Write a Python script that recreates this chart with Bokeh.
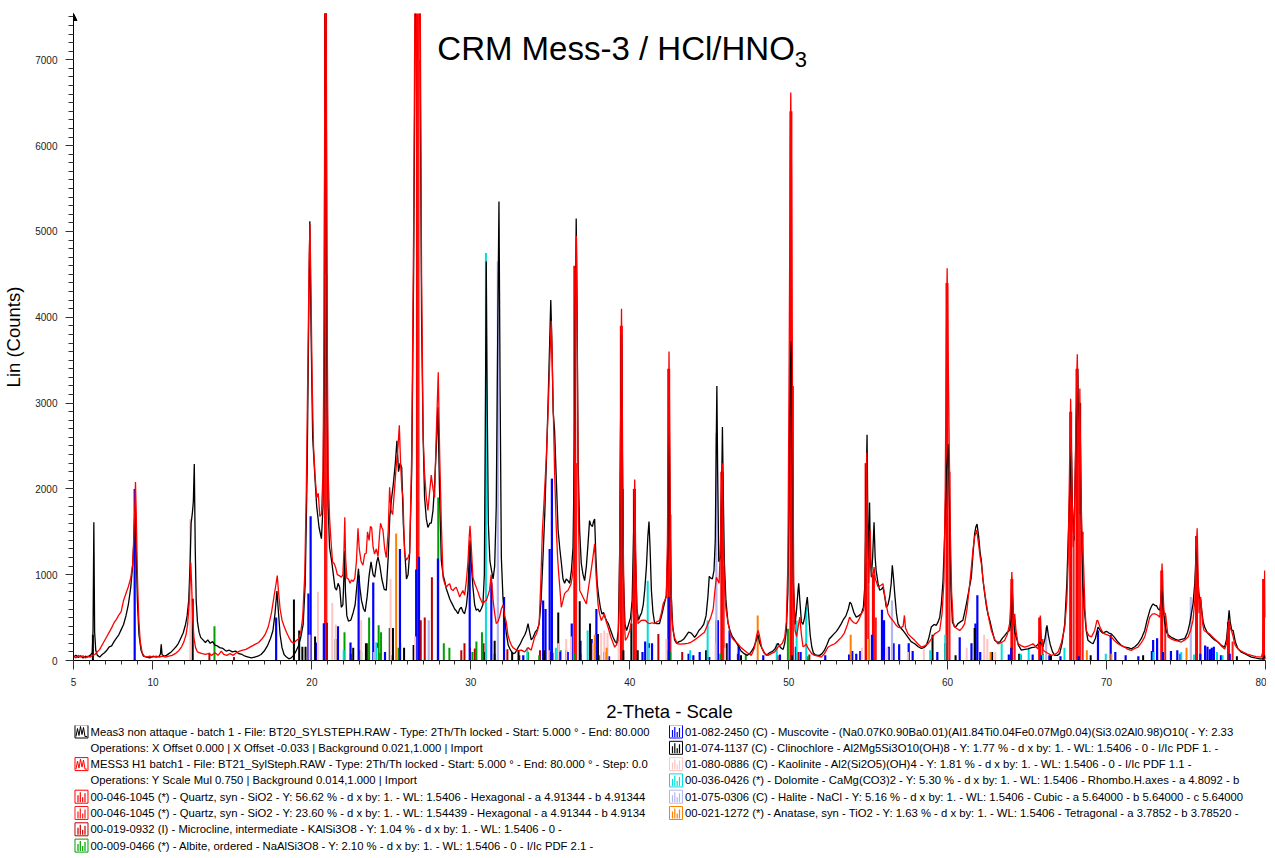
from bokeh.plotting import figure
from bokeh.layouts import column
from bokeh.models import Range1d, FixedTicker, Label, Arrow, NormalHead
from bokeh.embed import file_html
from bokeh.resources import INLINE

FONT = "Liberation Sans"

# ---- measured scans: (2-theta in degrees, counts) ----
meas3_scan = [
    (5.00, 40), (5.15, 60), (5.30, 35), (5.45, 55), (5.60, 30), (5.75, 50), (5.90, 40), (6.05, 60),
    (6.18, 90), (6.23, 350), (6.28, 1610), (6.33, 330), (6.40, 120), (6.50, 60), (6.65, 40), (6.80, 70),
    (6.95, 90), (7.10, 120), (7.25, 160), (7.40, 170), (7.55, 220), (7.70, 260), (7.85, 300), (8.00, 360),
    (8.15, 420), (8.30, 520), (8.45, 650), (8.60, 850), (8.72, 1100), (8.80, 1400), (8.87, 1800), (8.94, 1300),
    (9.02, 700), (9.12, 300), (9.25, 120), (9.40, 50), (9.60, 40), (9.80, 30), (10.00, 50), (10.20, 40),
    (10.40, 50), (10.47, 80), (10.52, 190), (10.57, 70), (10.70, 50), (10.85, 60), (11.00, 80), (11.15, 100),
    (11.30, 130), (11.45, 160), (11.60, 200), (11.75, 260), (11.90, 320), (12.05, 420), (12.15, 520), (12.25, 700),
    (12.33, 1100), (12.40, 1600), (12.48, 1720), (12.54, 1850), (12.60, 2290), (12.66, 1300), (12.72, 700), (12.80, 450),
    (12.90, 330), (13.00, 270), (13.15, 240), (13.30, 210), (13.45, 240), (13.60, 200), (13.75, 220), (13.90, 180),
    (14.05, 170), (14.20, 150), (14.40, 140), (14.60, 110), (14.80, 120), (15.00, 100), (15.20, 110), (15.40, 80),
    (15.60, 70), (15.80, 50), (16.00, 40), (16.20, 30), (16.40, 40), (16.60, 50), (16.80, 70), (17.00, 110),
    (17.20, 170), (17.40, 260), (17.55, 350), (17.68, 550), (17.80, 810), (17.90, 550), (18.00, 300), (18.12, 150),
    (18.25, 70), (18.40, 40), (18.55, 20), (18.70, 30), (18.85, 60), (19.00, 110), (19.15, 170), (19.30, 270),
    (19.45, 420), (19.58, 900), (19.70, 2200), (19.80, 4000), (19.87, 5120), (19.95, 3800), (20.05, 2600), (20.17, 2200),
    (20.30, 1800), (20.45, 1550), (20.60, 1420), (20.70, 1800), (20.77, 3500), (20.82, 7000), (20.86, 9500), (20.90, 7000),
    (20.95, 3500), (21.02, 1800), (21.11, 1320), (21.25, 1150), (21.35, 1000), (21.45, 850), (21.55, 820), (21.65, 900),
    (21.75, 850), (21.85, 620), (21.95, 650), (22.02, 1000), (22.06, 1280), (22.11, 800), (22.20, 520), (22.30, 460),
    (22.45, 470), (22.60, 560), (22.72, 650), (22.82, 850), (22.93, 1070), (23.02, 850), (23.12, 700), (23.25, 600),
    (23.35, 570), (23.48, 750), (23.60, 990), (23.72, 1150), (23.85, 1000), (23.95, 970), (24.08, 1150), (24.16, 1205),
    (24.28, 1100), (24.40, 950), (24.55, 830), (24.68, 820), (24.80, 1200), (24.90, 1670), (25.02, 1900), (25.12, 2050),
    (25.25, 2300), (25.35, 2560), (25.45, 2200), (25.55, 2300), (25.65, 2250), (25.75, 1600), (25.85, 1250), (25.95, 950),
    (26.05, 1000), (26.15, 1250), (26.28, 2200), (26.40, 4500), (26.52, 8000), (26.65, 12000), (26.78, 8000), (26.90, 4000),
    (27.00, 2600), (27.09, 1900), (27.20, 1650), (27.30, 1550), (27.42, 1600), (27.51, 1600), (27.62, 1750), (27.72, 2050),
    (27.83, 2500), (27.93, 2950), (28.03, 2000), (28.14, 1170), (28.25, 1000), (28.35, 930), (28.45, 840), (28.56, 780),
    (28.67, 720), (28.77, 680), (28.88, 640), (28.98, 600), (29.08, 580), (29.19, 545), (29.30, 600), (29.40, 620),
    (29.50, 570), (29.61, 545), (29.72, 640), (29.82, 820), (29.90, 1200), (29.95, 1400), (30.02, 1150), (30.13, 860),
    (30.24, 650), (30.34, 585), (30.45, 600), (30.55, 565), (30.65, 600), (30.76, 650), (30.85, 1000), (30.92, 3000),
    (30.97, 4650), (31.03, 3000), (31.10, 1600), (31.20, 1160), (31.30, 1050), (31.40, 950), (31.50, 1100), (31.60, 1800),
    (31.70, 4000), (31.77, 5350), (31.84, 3200), (31.92, 1200), (32.02, 740), (32.12, 500), (32.23, 320), (32.35, 180),
    (32.50, 120), (32.65, 80), (32.80, 90), (32.97, 150), (33.10, 190), (33.25, 250), (33.40, 300), (33.50, 350),
    (33.60, 430), (33.70, 330), (33.80, 240), (33.92, 270), (34.05, 330), (34.18, 360), (34.30, 430), (34.42, 700),
    (34.54, 1200), (34.65, 1700), (34.75, 2300), (34.86, 3000), (34.96, 3700), (35.03, 4200), (35.10, 3700), (35.18, 2900),
    (35.27, 2680), (35.38, 2100), (35.49, 1520), (35.60, 1300), (35.70, 1130), (35.80, 950), (35.90, 900), (36.00, 950),
    (36.11, 930), (36.22, 900), (36.33, 1050), (36.43, 1320), (36.52, 2500), (36.58, 4000), (36.63, 5150), (36.68, 4200),
    (36.75, 2300), (36.85, 1500), (36.95, 1130), (37.06, 1000), (37.16, 930), (37.27, 1100), (37.37, 1350), (37.47, 1630),
    (37.55, 1580), (37.65, 1560), (37.72, 1620), (37.79, 1650), (37.87, 1200), (37.95, 900), (38.05, 740), (38.15, 620),
    (38.25, 540), (38.35, 560), (38.45, 500), (38.55, 460), (38.65, 430), (38.80, 350), (38.95, 270), (39.08, 220),
    (39.18, 200), (39.28, 350), (39.36, 1200), (39.43, 3000), (39.48, 3800), (39.53, 2500), (39.60, 1000), (39.70, 420),
    (39.80, 350), (39.92, 420), (40.05, 500), (40.15, 700), (40.22, 1300), (40.30, 2000), (40.36, 1200), (40.45, 600),
    (40.55, 470), (40.65, 520), (40.75, 560), (40.85, 650), (40.94, 820), (41.05, 1100), (41.14, 1450), (41.21, 1620),
    (41.28, 1300), (41.36, 820), (41.46, 560), (41.56, 440), (41.70, 430), (41.87, 430), (42.00, 520), (42.10, 600),
    (42.20, 680), (42.30, 760), (42.38, 1200), (42.44, 2500), (42.48, 2900), (42.53, 1800), (42.60, 800), (42.70, 400),
    (42.82, 240), (42.95, 200), (43.10, 220), (43.25, 230), (43.40, 250), (43.55, 290), (43.70, 330), (43.87, 320),
    (44.00, 290), (44.08, 270), (44.20, 300), (44.35, 350), (44.50, 380), (44.65, 420), (44.80, 520), (44.92, 750),
    (45.00, 980), (45.10, 960), (45.20, 950), (45.30, 1050), (45.38, 1400), (45.44, 2500), (45.48, 3200), (45.53, 2200),
    (45.60, 1150), (45.70, 1200), (45.78, 2000), (45.83, 2720), (45.88, 2000), (45.95, 1150), (46.05, 700), (46.18, 440),
    (46.30, 350), (46.45, 280), (46.60, 240), (46.80, 180), (47.00, 110), (47.20, 80), (47.40, 60), (47.60, 90),
    (47.80, 150), (47.95, 230), (48.07, 300), (48.18, 200), (48.30, 150), (48.45, 90), (48.60, 60), (48.80, 90),
    (49.00, 110), (49.12, 130), (49.25, 180), (49.33, 200), (49.45, 160), (49.55, 140), (49.65, 130), (49.75, 200),
    (49.85, 350), (49.95, 800), (50.03, 2000), (50.10, 3400), (50.17, 3720), (50.22, 2600), (50.30, 900), (50.40, 420),
    (50.50, 600), (50.58, 800), (50.63, 900), (50.70, 700), (50.80, 450), (50.90, 420), (51.00, 500), (51.10, 650),
    (51.17, 740), (51.25, 550), (51.35, 300), (51.45, 160), (51.55, 90), (51.65, 70), (51.80, 60), (51.95, 60),
    (52.10, 80), (52.25, 120), (52.40, 180), (52.55, 250), (52.70, 280), (52.85, 310), (53.00, 340), (53.15, 380),
    (53.31, 430), (53.45, 480), (53.60, 520), (53.75, 600), (53.85, 680), (53.94, 660), (54.10, 560), (54.25, 505),
    (54.40, 520), (54.57, 545), (54.70, 620), (54.80, 900), (54.87, 2000), (54.93, 2630), (54.98, 1600), (55.03, 1130),
    (55.09, 1840), (55.14, 1200), (55.20, 970), (55.28, 1200), (55.37, 1610), (55.44, 1200), (55.50, 1050), (55.62, 900),
    (55.72, 820), (55.83, 830), (55.93, 855), (56.04, 750), (56.14, 620), (56.25, 650), (56.35, 740), (56.45, 900),
    (56.52, 1110), (56.60, 950), (56.67, 780), (56.78, 550), (56.88, 430), (57.00, 390), (57.10, 370), (57.19, 350),
    (57.35, 310), (57.51, 270), (57.70, 220), (57.93, 195), (58.15, 160), (58.35, 140), (58.50, 150), (58.66, 175),
    (58.80, 250), (58.97, 390), (59.15, 420), (59.29, 410), (59.40, 450), (59.50, 500), (59.60, 650), (59.71, 930),
    (59.82, 1500), (59.92, 2200), (60.00, 2400), (60.05, 2520), (60.12, 1800), (60.20, 900), (60.30, 450), (60.44, 390),
    (60.55, 400), (60.65, 430), (60.80, 450), (60.96, 470), (61.07, 560), (61.18, 660), (61.30, 780), (61.40, 880),
    (61.49, 970), (61.60, 1250), (61.70, 1480), (61.78, 1560), (61.85, 1590), (61.95, 1450), (62.05, 1250), (62.12, 1170),
    (62.22, 950), (62.33, 780), (62.45, 620), (62.55, 530), (62.65, 470), (62.80, 350), (62.96, 235), (63.10, 215),
    (63.28, 215), (63.45, 260), (63.59, 290), (63.75, 330), (63.90, 350), (64.00, 500), (64.07, 800), (64.14, 500),
    (64.22, 330), (64.32, 270), (64.45, 180), (64.64, 120), (64.85, 130), (65.06, 135), (65.28, 150), (65.48, 155),
    (65.65, 180), (65.83, 215), (66.00, 160), (66.12, 250), (66.25, 410), (66.35, 280), (66.45, 190), (66.60, 100),
    (66.74, 60), (66.90, 60), (67.05, 80), (67.20, 200), (67.37, 430), (67.50, 900), (67.60, 1500), (67.72, 2200),
    (67.78, 2600), (67.85, 1800), (67.95, 1400), (68.05, 2400), (68.12, 3000), (68.18, 3400), (68.25, 2600), (68.33, 3000),
    (68.40, 1800), (68.50, 900), (68.60, 600), (68.72, 350), (68.83, 235), (69.00, 210), (69.15, 195), (69.30, 260),
    (69.46, 390), (69.60, 350), (69.75, 320), (69.88, 330), (70.00, 340), (70.15, 320), (70.30, 310), (70.50, 270),
    (70.72, 215), (70.90, 180), (71.14, 155), (71.35, 150), (71.56, 135), (71.78, 160), (71.98, 195), (72.20, 260),
    (72.40, 350), (72.55, 470), (72.72, 585), (72.85, 640), (72.93, 660), (73.05, 640), (73.14, 640), (73.25, 600),
    (73.35, 585), (73.42, 700), (73.49, 900), (73.55, 650), (73.65, 450), (73.77, 330), (73.92, 290), (74.08, 270),
    (74.30, 250), (74.50, 235), (74.70, 245), (74.92, 255), (75.10, 330), (75.23, 430), (75.35, 560), (75.44, 660),
    (75.55, 900), (75.62, 1200), (75.68, 1400), (75.73, 1000), (75.80, 800), (75.87, 700), (75.92, 700), (76.00, 560),
    (76.08, 450), (76.17, 390), (76.35, 320), (76.59, 275), (76.80, 240), (77.01, 215), (77.20, 180), (77.43, 155),
    (77.55, 250), (77.65, 450), (77.71, 585), (77.78, 450), (77.88, 350), (77.96, 350), (78.10, 220), (78.27, 135),
    (78.45, 100), (78.69, 80), (78.90, 60), (79.11, 40), (79.35, 30), (79.64, 20), (79.85, 20), (79.95, 60),
    (80.00, 20),
]

mess3_scan = [
    (5.00, 50), (5.15, 30), (5.30, 60), (5.45, 40), (5.60, 55), (5.75, 30), (5.90, 50), (6.05, 40),
    (6.20, 60), (6.35, 70), (6.50, 100), (6.65, 130), (6.80, 180), (6.95, 230), (7.10, 280), (7.25, 330),
    (7.40, 380), (7.55, 440), (7.70, 480), (7.85, 530), (8.00, 570), (8.15, 700), (8.30, 780), (8.45, 860),
    (8.60, 960), (8.72, 1120), (8.80, 1450), (8.86, 1800), (8.90, 2080), (8.95, 1700), (9.02, 1000), (9.10, 500),
    (9.20, 220), (9.32, 90), (9.45, 50), (9.60, 40), (9.80, 50), (10.00, 40), (10.20, 50), (10.40, 40),
    (10.60, 50), (10.80, 40), (11.00, 50), (11.20, 60), (11.40, 80), (11.60, 110), (11.80, 160), (11.95, 220),
    (12.08, 300), (12.18, 420), (12.27, 650), (12.33, 900), (12.38, 1140), (12.43, 900), (12.50, 500), (12.58, 260),
    (12.68, 150), (12.80, 100), (12.95, 90), (13.10, 80), (13.30, 70), (13.50, 80), (13.70, 60), (13.90, 90),
    (14.10, 60), (14.30, 110), (14.45, 70), (14.65, 60), (14.85, 80), (15.05, 60), (15.25, 90), (15.45, 110),
    (15.65, 120), (15.85, 130), (16.05, 150), (16.25, 170), (16.45, 190), (16.65, 210), (16.85, 250), (17.05, 300),
    (17.25, 390), (17.45, 550), (17.62, 750), (17.75, 900), (17.82, 990), (17.90, 800), (18.00, 600), (18.12, 470),
    (18.25, 400), (18.40, 330), (18.55, 270), (18.70, 220), (18.85, 200), (19.00, 230), (19.15, 250), (19.30, 330),
    (19.42, 500), (19.55, 1000), (19.65, 2000), (19.75, 3500), (19.83, 4700), (19.88, 5080), (19.95, 4200), (20.02, 3200),
    (20.10, 2500), (20.20, 2150), (20.30, 1900), (20.40, 1950), (20.50, 1680), (20.60, 1700), (20.70, 2200), (20.77, 4000),
    (20.82, 7500), (20.86, 10000), (20.90, 7500), (20.95, 4200), (21.02, 2200), (21.11, 1670), (21.20, 1400), (21.30, 1150),
    (21.40, 1130), (21.50, 1080), (21.60, 1000), (21.72, 990), (21.85, 970), (21.95, 1000), (22.02, 1300), (22.07, 1670),
    (22.12, 1200), (22.20, 960), (22.30, 950), (22.40, 900), (22.50, 940), (22.60, 920), (22.70, 960), (22.80, 1150),
    (22.90, 1540), (22.98, 1300), (23.10, 1150), (23.21, 1110), (23.32, 1240), (23.42, 1250), (23.50, 1500), (23.60, 1400),
    (23.68, 1560), (23.76, 1550), (23.85, 1320), (23.94, 1240), (24.05, 1300), (24.16, 1210), (24.26, 1480), (24.32, 1600),
    (24.40, 1550), (24.47, 1520), (24.58, 1300), (24.68, 1200), (24.80, 1500), (24.89, 2020), (24.98, 1750), (25.08, 1700),
    (25.20, 2000), (25.32, 2300), (25.42, 2500), (25.50, 2740), (25.58, 2300), (25.66, 2000), (25.73, 1900), (25.83, 1250),
    (25.94, 1170), (26.05, 1200), (26.15, 1250), (26.28, 2400), (26.40, 5000), (26.52, 9000), (26.65, 14000), (26.78, 9000),
    (26.90, 4500), (27.00, 2600), (27.09, 2180), (27.20, 1900), (27.30, 1750), (27.40, 1950), (27.51, 2160), (27.62, 2000),
    (27.72, 1900), (27.82, 2600), (27.95, 3360), (28.04, 2400), (28.14, 1630), (28.25, 970), (28.35, 900), (28.45, 855),
    (28.56, 880), (28.67, 895), (28.77, 830), (28.88, 816), (28.98, 840), (29.08, 855), (29.19, 800), (29.30, 740),
    (29.40, 780), (29.50, 816), (29.61, 760), (29.72, 930), (29.82, 1150), (29.90, 1450), (29.95, 1570), (30.02, 1350),
    (30.13, 970), (30.24, 900), (30.34, 855), (30.45, 800), (30.55, 740), (30.65, 700), (30.76, 660), (30.87, 690),
    (30.97, 700), (31.08, 760), (31.18, 820), (31.28, 1000), (31.40, 700), (31.50, 550), (31.60, 430), (31.70, 450),
    (31.80, 500), (31.92, 600), (32.03, 650), (32.13, 520), (32.23, 450), (32.33, 300), (32.44, 230), (32.55, 180),
    (32.65, 150), (32.80, 130), (32.97, 115), (33.18, 120), (33.39, 100), (33.60, 150), (33.80, 120), (34.01, 270),
    (34.10, 300), (34.20, 350), (34.30, 430), (34.40, 900), (34.50, 1500), (34.62, 1900), (34.75, 2370), (34.86, 2900),
    (34.96, 3460), (35.06, 3960), (35.12, 3500), (35.17, 3070), (35.27, 2200), (35.38, 1520), (35.46, 1200), (35.53, 1010),
    (35.62, 800), (35.69, 620), (35.80, 700), (35.90, 780), (36.00, 800), (36.11, 816), (36.20, 850), (36.30, 890),
    (36.40, 1000), (36.48, 1200), (36.54, 2500), (36.59, 4000), (36.64, 4950), (36.69, 3800), (36.76, 1800), (36.85, 816),
    (36.95, 780), (37.05, 740), (37.16, 700), (37.27, 660), (37.37, 800), (37.47, 930), (37.57, 1050), (37.68, 1200),
    (37.79, 1360), (37.88, 1000), (38.00, 660), (38.10, 540), (38.21, 466), (38.30, 500), (38.40, 544), (38.52, 450),
    (38.63, 390), (38.80, 280), (39.05, 155), (39.15, 180), (39.26, 230), (39.33, 600), (39.40, 2000), (39.45, 3500),
    (39.48, 4100), (39.52, 3300), (39.58, 1500), (39.65, 500), (39.72, 235), (39.85, 270), (40.00, 350), (40.10, 450),
    (40.20, 740), (40.26, 1300), (40.31, 2110), (40.37, 1300), (40.45, 600), (40.52, 430), (40.62, 450), (40.73, 466),
    (40.85, 470), (41.00, 466), (41.12, 440), (41.25, 430), (41.40, 440), (41.56, 430), (41.70, 450), (41.87, 466),
    (42.00, 560), (42.10, 660), (42.20, 700), (42.30, 740), (42.37, 1400), (42.43, 2800), (42.47, 3600), (42.52, 2500),
    (42.58, 1000), (42.65, 500), (42.72, 350), (42.85, 250), (43.00, 195), (43.20, 190), (43.45, 195), (43.65, 200),
    (43.87, 215), (44.08, 240), (44.30, 270), (44.50, 300), (44.70, 330), (44.90, 420), (45.10, 505), (45.25, 600),
    (45.35, 800), (45.45, 970), (45.55, 930), (45.62, 900), (45.70, 1300), (45.77, 2000), (45.82, 2300), (45.88, 1500),
    (45.95, 900), (46.05, 600), (46.15, 480), (46.30, 330), (46.45, 260), (46.60, 230), (46.80, 195), (47.00, 150),
    (47.20, 120), (47.40, 90), (47.65, 60), (47.85, 150), (47.97, 280), (48.07, 350), (48.15, 300), (48.30, 150),
    (48.50, 80), (48.70, 60), (48.90, 80), (49.12, 100), (49.30, 150), (49.45, 175), (49.60, 200), (49.75, 270),
    (49.85, 450), (49.95, 1130), (50.03, 3500), (50.09, 5800), (50.13, 6620), (50.18, 5600), (50.24, 3000), (50.32, 800),
    (50.40, 350), (50.50, 280), (50.60, 400), (50.70, 505), (50.80, 300), (50.90, 160), (51.00, 170), (51.10, 195),
    (51.20, 150), (51.30, 120), (51.45, 80), (51.63, 60), (51.85, 50), (52.05, 40), (52.25, 80), (52.47, 155),
    (52.70, 180), (52.90, 195), (53.10, 230), (53.31, 270), (53.50, 320), (53.70, 420), (53.83, 505), (53.94, 470),
    (54.10, 440), (54.25, 430), (54.40, 470), (54.57, 545), (54.70, 580), (54.78, 660), (54.85, 1500), (54.91, 2420),
    (54.96, 1500), (55.03, 900), (55.09, 1200), (55.13, 1520), (55.18, 1100), (55.25, 970), (55.31, 1000), (55.37, 1090),
    (55.45, 950), (55.55, 900), (55.62, 860), (55.72, 870), (55.83, 880), (55.93, 895), (56.04, 760), (56.14, 650),
    (56.25, 545), (56.40, 500), (56.56, 466), (56.72, 420), (56.88, 390), (57.05, 380), (57.20, 400), (57.28, 525),
    (57.35, 380), (57.51, 310), (57.72, 270), (57.93, 235), (58.15, 190), (58.35, 155), (58.55, 170), (58.76, 195),
    (58.97, 250), (59.18, 310), (59.35, 330), (59.50, 350), (59.65, 550), (59.77, 930), (59.85, 2000), (59.92, 3800),
    (59.97, 4570), (60.03, 3600), (60.10, 2500), (60.17, 1500), (60.25, 800), (60.35, 450), (60.44, 390), (60.60, 370),
    (60.76, 350), (60.92, 380), (61.07, 430), (61.22, 600), (61.39, 895), (61.50, 1100), (61.60, 1300), (61.70, 1440),
    (61.83, 1520), (61.95, 1350), (62.05, 1200), (62.12, 1130), (62.25, 900), (62.44, 660), (62.60, 480), (62.75, 350),
    (62.95, 250), (63.17, 195), (63.40, 210), (63.59, 235), (63.75, 300), (63.90, 430), (63.98, 700), (64.04, 1030),
    (64.10, 700), (64.16, 400), (64.22, 545), (64.30, 350), (64.43, 195), (64.65, 170), (64.85, 155), (65.10, 170),
    (65.37, 195), (65.55, 160), (65.69, 135), (65.77, 300), (65.83, 525), (65.90, 250), (66.00, 120), (66.25, 90),
    (66.53, 60), (66.75, 70), (66.95, 100), (67.15, 200), (67.37, 390), (67.50, 700), (67.58, 1130), (67.65, 2000),
    (67.74, 3050), (67.82, 2000), (67.90, 1320), (67.97, 1500), (68.05, 2500), (68.12, 3300), (68.16, 3570), (68.21, 2800),
    (68.27, 2300), (68.32, 3170), (68.37, 2200), (68.44, 1520), (68.50, 1300), (68.56, 1090), (68.64, 600), (68.73, 350),
    (68.88, 290), (69.05, 275), (69.25, 350), (69.40, 470), (69.46, 460), (69.60, 380), (69.75, 330), (69.88, 310),
    (70.05, 300), (70.30, 275), (70.50, 230), (70.72, 195), (70.95, 170), (71.14, 155), (71.35, 130), (71.56, 117),
    (71.78, 140), (71.98, 155), (72.20, 210), (72.40, 275), (72.55, 380), (72.72, 505), (72.88, 540), (73.03, 545),
    (73.20, 530), (73.35, 505), (73.44, 800), (73.49, 1130), (73.55, 800), (73.62, 545), (73.70, 550), (73.87, 275),
    (74.08, 250), (74.29, 235), (74.50, 225), (74.71, 215), (74.92, 240), (75.13, 275), (75.30, 360), (75.44, 470),
    (75.55, 700), (75.64, 1300), (75.70, 1540), (75.76, 1000), (75.82, 550), (75.87, 700), (75.92, 740), (75.98, 600),
    (76.05, 420), (76.13, 350), (76.30, 330), (76.49, 310), (76.75, 260), (77.01, 215), (77.22, 170), (77.43, 135),
    (77.56, 200), (77.64, 380), (77.71, 470), (77.78, 370), (77.86, 350), (77.96, 280), (78.05, 200), (78.17, 155),
    (78.38, 120), (78.59, 97), (78.85, 75), (79.11, 60), (79.40, 45), (79.74, 40), (79.83, 100), (79.90, 600),
    (79.95, 1050), (79.99, 500),
]

# ---- reference patterns: (2-theta, stick height in counts) ----
quartz_ka1 = [
    (20.86, 9000), (26.64, 14000), (36.54, 4600), (39.47, 3900), (40.29, 2000), (42.45, 3400),
    (45.79, 2200), (50.14, 6400), (54.87, 2300), (55.33, 1000), (59.96, 4400), (64.04, 950),
    (65.79, 500), (67.74, 2900), (68.14, 3400), (68.31, 3000), (73.47, 1050), (75.66, 1450),
    (77.67, 450), (79.88, 950),
]
quartz_ka2 = [
    (20.91, 4500), (26.71, 7000), (36.63, 2300), (39.57, 2000), (40.39, 1000), (42.56, 1700),
    (45.91, 1100), (50.27, 3200), (55.02, 1150), (55.48, 500), (60.12, 2200), (64.22, 480),
    (65.97, 250), (67.93, 1450), (68.33, 1700), (68.50, 1500), (73.69, 520), (75.90, 720),
    (77.93, 220),
]
microcline = [
    (13.55, 90), (15.10, 40), (20.95, 440), (21.60, 250), (22.45, 80), (23.05, 120), (23.50, 200),
    (24.30, 90), (25.05, 60), (25.55, 200), (26.85, 470), (27.10, 500), (27.55, 970), (29.40, 120),
    (29.60, 200), (29.95, 150), (30.25, 140), (30.80, 200), (32.30, 130), (33.05, 60), (34.35, 120),
    (35.05, 100), (36.90, 80), (37.50, 90), (41.80, 310), (42.40, 120), (43.30, 100), (46.80, 80),
    (49.30, 60), (50.60, 100), (51.30, 70),
]
albite = [
    (13.87, 400), (22.05, 330), (23.10, 100), (23.60, 500), (24.20, 410), (24.35, 330), (25.45, 150),
    (27.95, 1900), (28.30, 200), (28.65, 150), (30.10, 100), (30.35, 220), (30.70, 330), (31.50, 80),
    (33.60, 100), (34.30, 60), (35.15, 90), (35.65, 120), (36.55, 80), (38.10, 60), (42.55, 100),
    (45.70, 80), (47.30, 70), (49.95, 370), (51.20, 50),
]
muscovite = [
    (8.85, 2000), (17.75, 500), (19.78, 780), (19.92, 1680), (20.30, 210), (20.75, 435), (21.64, 400),
    (22.43, 210), (22.94, 990), (23.86, 910), (24.60, 100), (25.54, 1300), (26.56, 1060), (26.74, 1210),
    (27.93, 1190), (29.93, 1340), (31.29, 910), (32.09, 740), (33.30, 60), (34.55, 700), (34.70, 600),
    (34.96, 1300), (35.10, 2120), (35.60, 100), (36.10, 100), (36.35, 430), (36.90, 230), (37.60, 250),
    (37.90, 600), (38.70, 50), (40.80, 100), (40.97, 220), (41.20, 200), (41.40, 200), (42.47, 740),
    (43.70, 80), (44.00, 60), (44.40, 100), (45.00, 40), (45.55, 470), (46.28, 350), (46.85, 180),
    (48.40, 60), (49.45, 70), (50.45, 160), (50.75, 100), (52.30, 60), (53.80, 70), (54.00, 110),
    (54.25, 80), (54.50, 110), (55.24, 300), (55.87, 590), (56.00, 470), (56.30, 160), (56.60, 200),
    (56.95, 190), (57.55, 200), (57.80, 110), (59.35, 100), (60.76, 270), (61.50, 200), (61.75, 430),
    (61.87, 760), (62.05, 100), (63.85, 70), (64.00, 150), (64.60, 60), (65.35, 70), (65.90, 60),
    (66.40, 60), (67.10, 50), (68.25, 50), (69.46, 350), (70.26, 300), (70.55, 100), (71.20, 60),
    (72.00, 50), (72.85, 110), (72.93, 240), (73.18, 260), (73.55, 100), (74.05, 110), (74.45, 120),
    (74.65, 80), (75.90, 80), (76.20, 175), (76.35, 160), (76.50, 130), (76.62, 150), (76.75, 160),
    (77.20, 60), (77.75, 80),
]
clinochlore = [
    (6.22, 300), (12.50, 720), (18.87, 710), (19.20, 350), (19.40, 160), (19.60, 160), (20.20, 280),
    (21.50, 250), (22.60, 150), (23.40, 200), (24.10, 200), (24.90, 380), (25.10, 380), (25.80, 150),
    (26.40, 180), (30.90, 100), (31.50, 230), (32.60, 100), (33.00, 120), (34.60, 120), (35.50, 560),
    (36.00, 120), (36.85, 690), (37.50, 430), (38.00, 310), (38.40, 100), (39.60, 120), (40.10, 430),
    (40.50, 120), (41.20, 100), (44.80, 120), (45.45, 470), (46.10, 200), (47.00, 60), (50.20, 60),
    (59.05, 300), (59.85, 200), (60.50, 60), (61.70, 380), (62.80, 100), (64.50, 80), (66.00, 70),
    (66.50, 60), (69.00, 60), (72.30, 60), (78.20, 50),
]
kaolinite = [
    (12.35, 1650), (19.85, 300), (20.38, 800), (21.28, 670), (21.50, 420), (23.10, 470), (24.10, 150),
    (24.95, 950), (26.50, 280), (34.90, 120), (35.50, 200), (36.00, 250), (36.30, 280), (37.70, 200),
    (38.20, 320), (38.40, 350), (38.60, 320), (39.30, 300), (41.20, 150), (42.30, 250), (45.40, 200),
    (46.00, 150), (54.60, 150), (55.00, 250), (56.20, 150), (57.50, 100), (58.50, 130), (61.20, 150),
    (62.30, 300), (62.50, 250), (63.00, 100),
]
dolomite = [
    (22.00, 120), (24.05, 213), (30.95, 4750), (33.55, 150), (35.35, 150), (37.35, 350), (41.13, 930),
    (43.80, 120), (44.90, 466), (49.25, 200), (50.50, 466), (51.10, 622), (58.90, 120), (59.85, 300),
    (63.40, 200), (64.60, 80), (65.10, 150), (66.00, 70), (67.35, 150), (69.95, 80), (72.95, 100),
    (74.70, 100), (75.50, 70), (76.95, 100), (77.30, 60),
]
halite = [
    (23.90, 100), (27.35, 470), (31.70, 4650), (45.45, 2650), (56.50, 700), (66.20, 390), (75.30, 740),
]
anatase = [
    (25.30, 1480), (37.80, 300), (38.55, 150), (48.05, 525), (53.90, 300), (55.06, 250), (62.70, 100),
    (68.76, 120), (70.30, 80), (75.03, 150),
]

x_major_ticks = [5, 10, 20, 30, 40, 50, 60, 70, 80]
y_major_ticks = [0, 1000, 2000, 3000, 4000, 5000, 6000, 7000]
Y_TOP = 7540

scan_legend = [
    ("Meas3 non attaque - batch 1 - File: BT20_SYLSTEPH.RAW - Type: 2Th/Th locked - Start: 5.000 \u00b0 - End: 80.000",
     "Operations: X Offset 0.000 | X Offset -0.033 | Background 0.021,1.000 | Import"),
    ("MESS3 H1 batch1 - File: BT21_SylSteph.RAW - Type: 2Th/Th locked - Start: 5.000 \u00b0 - End: 80.000 \u00b0 - Step: 0.0",
     "Operations: Y Scale Mul  0.750 | Background 0.014,1.000 | Import"),
]
pattern_legend_left = [
    "00-046-1045 (*) - Quartz, syn - SiO2 - Y: 56.62 % - d x by: 1. - WL: 1.5406 - Hexagonal - a 4.91344 - b 4.91344",
    "00-046-1045 (*) - Quartz, syn - SiO2 - Y: 23.60 % - d x by: 1. - WL: 1.54439 - Hexagonal - a 4.91344 - b 4.9134",
    "00-019-0932 (I) - Microcline, intermediate - KAlSi3O8 - Y: 1.04 % - d x by: 1. - WL: 1.5406 - 0 -",
    "00-009-0466 (*) - Albite, ordered - NaAlSi3O8 - Y: 2.10 % - d x by: 1. - WL: 1.5406 - 0 - I/Ic PDF 2.1 -",
]
pattern_legend_right = [
    "01-082-2450 (C) - Muscovite - (Na0.07K0.90Ba0.01)(Al1.84Ti0.04Fe0.07Mg0.04)(Si3.02Al0.98)O10( - Y: 2.33",
    "01-074-1137 (C) - Clinochlore - Al2Mg5Si3O10(OH)8 - Y: 1.77 % - d x by: 1. - WL: 1.5406 - 0 - I/Ic PDF 1. -",
    "01-080-0886 (C) - Kaolinite - Al2(Si2O5)(OH)4 - Y: 1.81 % - d x by: 1. - WL: 1.5406 - 0 - I/Ic PDF 1.1 -",
    "00-036-0426 (*) - Dolomite - CaMg(CO3)2 - Y: 5.30 % - d x by: 1. - WL: 1.5406 - Rhombo.H.axes - a 4.8092 - b",
    "01-075-0306 (C) - Halite - NaCl - Y: 5.16 % - d x by: 1. - WL: 1.5406 - Cubic - a 5.64000 - b 5.64000 - c 5.64000",
    "00-021-1272 (*) - Anatase, syn - TiO2 - Y: 1.63 % - d x by: 1. - WL: 1.5406 - Tetragonal - a 3.7852 - b 3.78520 -",
]

C_MEAS3 = "#000000"
C_MESS3 = "#ff0000"
C_QTZ1 = "#ff0000"
C_QTZ2 = "#ff1a1a"
C_MIC = "#c00000"
C_ALB = "#00a000"
C_MUS = "#0000ff"
C_CLI = "#000000"
C_KAO = "#ffc4c4"
C_DOL = "#00dede"
C_HAL = "#b4b4f0"
C_ANA = "#ff8000"

W = 1266
BORDER_L = 72
BORDER_R = 1

p = figure(width=W, height=725, x_range=Range1d(5, 80), y_range=Range1d(0, Y_TOP),
           output_backend="svg", toolbar_location=None,
           min_border_left=BORDER_L, min_border_right=BORDER_R, min_border_top=13, min_border_bottom=65)
p.outline_line_color = None
p.grid.grid_line_color = None
p.background_fill_color = "white"
p.border_fill_color = "white"

# stick patterns
stick_sets = [
    (quartz_ka1, C_QTZ1, 3.0), (quartz_ka2, C_QTZ2, 2.0), (microcline, C_MIC, 2.0),
    (albite, C_ALB, 2.0), (muscovite, C_MUS, 2.2), (clinochlore, C_CLI, 2.0),
    (kaolinite, C_KAO, 2.0), (dolomite, C_DOL, 2.0), (halite, C_HAL, 2.2), (anatase, C_ANA, 2.0),
]
for pattern, color, lw in stick_sets:
    xs = [pt[0] for pt in pattern]
    hs = [pt[1] for pt in pattern]
    p.segment(x0=xs, y0=[0] * len(xs), x1=xs, y1=hs, line_color=color, line_width=lw, line_cap="butt")

# measured scans
bx = [pt[0] for pt in meas3_scan]
by = [pt[1] for pt in meas3_scan]
rx = [pt[0] for pt in mess3_scan]
ry = [pt[1] for pt in mess3_scan]
p.line(bx, by, line_color=C_MEAS3, line_width=1.3)
p.line(rx, ry, line_color=C_MESS3, line_width=1.3)

# axes
p.xaxis.ticker = FixedTicker(ticks=x_major_ticks, minor_ticks=list(range(5, 81)))
p.yaxis.ticker = FixedTicker(ticks=y_major_ticks, minor_ticks=list(range(0, Y_TOP, 100)))
for ax in (p.xaxis[0], p.yaxis[0]):
    ax.axis_line_color = "black"
    ax.axis_line_width = 1
    ax.major_tick_line_color = "#333333"
    ax.minor_tick_line_color = "#333333"
    ax.major_tick_in = 0
    ax.minor_tick_in = 0
    ax.major_label_text_font = FONT
    ax.major_label_text_font_size = "10px"
    ax.major_label_text_color = "#222222"
    ax.axis_label_text_font = FONT
    ax.axis_label_text_font_size = "18.5px"
    ax.axis_label_text_font_style = "normal"
    ax.axis_label_text_color = "black"
p.xaxis.major_tick_out = 9
p.xaxis.minor_tick_out = 4
p.xaxis.major_label_standoff = 8
p.xaxis.axis_label = "2-Theta - Scale"
p.xaxis.axis_label_standoff = 12
p.yaxis.major_tick_out = 8
p.yaxis.minor_tick_out = 5
p.yaxis.major_label_standoff = 8
p.yaxis.axis_label = "Lin (Counts)"
p.yaxis.axis_label_standoff = 8

p.add_layout(Arrow(end=NormalHead(size=7, fill_color="black", line_color="black"),
                   x_start=5, y_start=Y_TOP - 200, x_end=5, y_end=Y_TOP,
                   line_color="black", line_width=1))

p.add_layout(Label(x=27.89, y=7136, text="CRM Mess-3 / HCl/HNO", text_font=FONT,
                   text_font_size="33px", text_color="black", text_baseline="alphabetic"))
p.add_layout(Label(x=50.38, y=7000, text="3", text_font=FONT,
                   text_font_size="22px", text_color="black", text_baseline="alphabetic"))

# legend panel below the plot; its frame lines up with the plot frame,
# so its x range is given in page pixels across that frame
LH = 133
leg = figure(width=W, height=LH, x_range=Range1d(BORDER_L, W - BORDER_R), y_range=Range1d(LH, 0),
             output_backend="svg", toolbar_location=None,
             min_border_left=BORDER_L, min_border_right=BORDER_R, min_border_top=0, min_border_bottom=0,
             x_axis_location=None, y_axis_location=None)
leg.outline_line_color = None
leg.grid.grid_line_color = None

ROW0 = 6
ROW_STEP = 16.3
TEXT_SIZE = "11.3px"
ICON = 13


def stick_icon(cx, cy, color):
    leg.rect(x=[cx], y=[cy], width=ICON, height=ICON, fill_color=None, line_color=color, line_width=1)
    dxs = [-3.5, -1.2, 1.2, 3.5]
    hts = [7, 10, 5, 9]
    bottom = cy + ICON / 2 - 1
    leg.segment(x0=[cx + d for d in dxs], y0=[bottom] * 4, x1=[cx + d for d in dxs],
                y1=[bottom - h for h in hts], line_color=color, line_width=1.2)


def scan_icon(cx, cy, color):
    leg.rect(x=[cx], y=[cy], width=ICON, height=ICON, fill_color=None, line_color=color, line_width=1)
    zx = [-5.5, -4, -2.5, -1, 0.5, 2, 3.5, 5.5]
    zy = [5, -3, 4, -5, 3, -4, 5, 5]
    leg.line([cx + a for a in zx], [cy + b for b in zy], line_color=color, line_width=1)


left_texts, left_y = [], []
row = 0
for (line1, line2), color in zip(scan_legend, [C_MEAS3, C_MESS3]):
    cy = ROW0 + row * ROW_STEP
    scan_icon(80, cy, color)
    left_texts += [line1, line2]
    left_y += [cy, cy + ROW_STEP]
    row += 2
for txt, color in zip(pattern_legend_left, [C_QTZ1, C_QTZ2, C_MIC, C_ALB]):
    cy = ROW0 + row * ROW_STEP
    stick_icon(80, cy, color)
    left_texts.append(txt)
    left_y.append(cy)
    row += 1

right_y = []
for i, color in enumerate([C_MUS, C_CLI, C_KAO, C_DOL, C_HAL, C_ANA]):
    cy = ROW0 + i * ROW_STEP
    stick_icon(675, cy, color)
    right_y.append(cy)

leg.text(x=[89] * len(left_texts), y=left_y, text=left_texts, text_font={"value": FONT},
         text_font_size={"value": TEXT_SIZE}, text_baseline="middle", text_align="left", text_color="black")
leg.text(x=[684] * len(pattern_legend_right), y=right_y, text=pattern_legend_right,
         text_font={"value": FONT}, text_font_size={"value": TEXT_SIZE},
         text_baseline="middle", text_align="left", text_color="black")

page = column(p, leg, spacing=0)
open("out.html", "w").write(file_html(page, INLINE, "CRM Mess-3"))
